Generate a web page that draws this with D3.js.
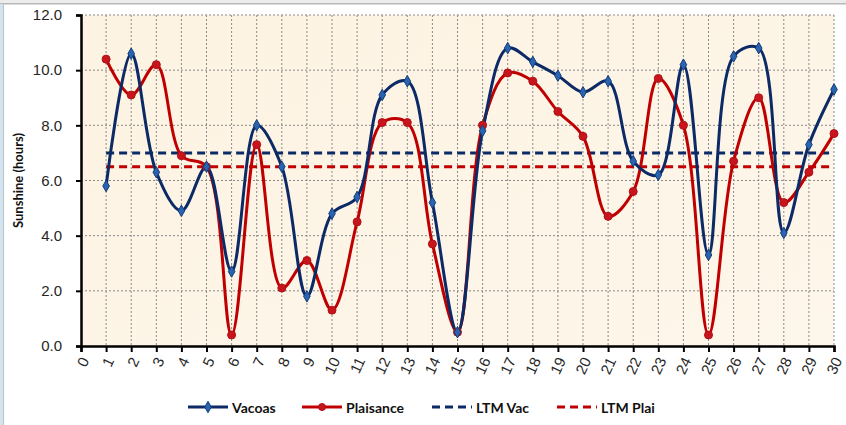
<!DOCTYPE html>
<html>
<head>
<meta charset="utf-8">
<script src="https://cdn.jsdelivr.net/npm/d3@7"></script>
<style>
  body { margin: 0; background: #fff; }
  svg { display: block; font-family: Lato, "Open Sans", sans-serif; }
</style>
</head>
<body>
<script>
"use strict"

// days of the month
const days = d3.range(1, 31)

// daily sunshine (hours)
const vacoas    = [5.8, 10.6, 6.3, 4.9, 6.5, 2.7, 8.0, 6.5, 1.8, 4.8, 5.4, 9.1, 9.6, 5.2, 0.5,
                   7.8, 10.8, 10.3, 9.8, 9.2, 9.6, 6.7, 6.2, 10.2, 3.3, 10.5, 10.8, 4.1, 7.3, 9.3]
const plaisance = [10.4, 9.1, 10.2, 6.9, 6.5, 0.4, 7.3, 2.1, 3.1, 1.3, 4.5, 8.1, 8.1, 3.7, 0.5,
                   8.0, 9.9, 9.6, 8.5, 7.6, 4.7, 5.6, 9.7, 8.0, 0.4, 6.7, 9.0, 5.2, 6.3, 7.7]

// long term means
const ltmVac  = 7.0
const ltmPlai = 6.5

const xTicks = d3.range(0, 31)
const yTicks = [0, 2, 4, 6, 8, 10, 12]

const legendItems = [
  { label : "Vacoas",    color : "#0b2a66", dash : null,  marker : "diamond", x : 188 },
  { label : "Plaisance", color : "#c00000", dash : null,  marker : "circle",  x : 302 },
  { label : "LTM Vac",   color : "#0b2a66", dash : "8,5", marker : null,      x : 432 },
  { label : "LTM Plai",  color : "#c00000", dash : "8,5", marker : null,      x : 557 },
]

const W = 846, H = 425
const plot = { left : 81, right : 834, top : 15, bottom : 346 }

const x = d3.scaleLinear().domain([0, 30]).range([plot.left, plot.right])
const y = d3.scaleLinear().domain([0, 12]).range([plot.bottom, plot.top])

const svg = d3.select("body").append("svg")
  .attr("width", W)
  .attr("height", H)

// window frame
svg.append("rect").attr("x", 0).attr("y", 0).attr("width", W).attr("height", 3).attr("fill", "#ececec")
svg.append("rect").attr("x", 0).attr("y", 3).attr("width", W).attr("height", 1.5).attr("fill", "#b8b8b8")
svg.append("rect").attr("x", 0).attr("y", 4).attr("width", 3).attr("height", H).attr("fill", "#d3e4ee")
svg.append("rect").attr("x", 3).attr("y", 4).attr("width", 1).attr("height", H).attr("fill", "#b8c4cc")

// plot background
const grad = svg.append("defs").append("linearGradient").attr("id", "bg")
  .attr("x1", 0).attr("y1", 0).attr("x2", 1).attr("y2", 1)
grad.append("stop").attr("offset", "0%").attr("stop-color", "#fdf3e2")
grad.append("stop").attr("offset", "100%").attr("stop-color", "#fdf6ea")

svg.append("rect")
  .attr("x", plot.left).attr("y", plot.top)
  .attr("width", plot.right - plot.left).attr("height", plot.bottom - plot.top)
  .attr("fill", "url(#bg)")

// grid
const grid = svg.append("g").attr("stroke", "#8a8a8a").attr("stroke-width", 1).attr("stroke-dasharray", "2,2")
grid.selectAll(".vg").data(xTicks.slice(1)).enter().append("line")
  .attr("x1", d => x(d)).attr("x2", d => x(d))
  .attr("y1", plot.top).attr("y2", plot.bottom)
grid.selectAll(".hg").data(yTicks.slice(1)).enter().append("line")
  .attr("x1", plot.left).attr("x2", plot.right)
  .attr("y1", d => y(d)).attr("y2", d => y(d))

// axes
const xAxis = svg.append("g")
  .attr("transform", `translate(0,${plot.bottom})`)
  .call(d3.axisBottom(x).tickValues(xTicks).tickSize(6).tickFormat(d3.format("d")))
const yAxis = svg.append("g")
  .attr("transform", `translate(${plot.left},0)`)
  .call(d3.axisLeft(y).tickValues(yTicks).tickSize(5).tickFormat(d3.format(".1f")))

for (const ax of [xAxis, yAxis]) {
  ax.select(".domain").attr("stroke", "#000").attr("stroke-width", 2.5)
  ax.selectAll(".tick line").attr("stroke", "#000").attr("stroke-width", 2)
}

yAxis.selectAll(".tick text")
  .attr("x", -19)
  .attr("font-size", 15)
  .attr("fill", "#262626")

xAxis.selectAll(".tick text")
  .attr("font-size", 15)
  .attr("fill", "#262626")
  .attr("text-anchor", "end")
  .attr("dy", null)
  .attr("y", null)
  .attr("transform", "translate(3,12) rotate(-65)")
  .attr("dominant-baseline", "central")

// y title
svg.append("text")
  .attr("transform", `translate(18,${(plot.top + plot.bottom) / 2}) rotate(-90)`)
  .attr("text-anchor", "middle")
  .attr("dominant-baseline", "central")
  .attr("font-size", 13)
  .attr("font-weight", "bold")
  .attr("fill", "#111")
  .text("Sunshine (hours)")

// long term means
const ltm = [
  { value : ltmVac,  color : "#0b2a66" },
  { value : ltmPlai, color : "#c00000" },
]
svg.selectAll(".ltm").data(ltm).enter().append("line")
  .attr("x1", x(1)).attr("x2", x(30))
  .attr("y1", d => y(d.value)).attr("y2", d => y(d.value))
  .attr("stroke", d => d.color)
  .attr("stroke-width", 3)
  .attr("stroke-dasharray", "8,5")

// series
const line = d3.line()
  .x((d, i) => x(days[i]))
  .y(d => y(d))
  .curve(d3.curveCatmullRom.alpha(0.5))

const series = [
  { values : plaisance, color : "#c00000", marker : "circle" },
  { values : vacoas,    color : "#0b2a66", marker : "diamond" },
]

const diamond = d3.symbol().type(d3.symbolDiamond).size(38)

for (const s of series) {
  svg.append("path")
    .attr("d", line(s.values))
    .attr("fill", "none")
    .attr("stroke", s.color)
    .attr("stroke-width", 3)
}

for (const s of series) {
  const g = svg.append("g")
  if (s.marker === "circle") {
    g.selectAll("circle").data(s.values).enter().append("circle")
      .attr("cx", (d, i) => x(days[i]))
      .attr("cy", d => y(d))
      .attr("r", 4)
      .attr("fill", "#c8141c")
      .attr("stroke", "#b01016")
      .attr("stroke-width", 1)
  } else {
    g.selectAll("path").data(s.values).enter().append("path")
      .attr("d", diamond)
      .attr("transform", (d, i) => `translate(${x(days[i])},${y(d)})`)
      .attr("fill", "#2a64b0")
      .attr("stroke", "#123d7a")
      .attr("stroke-width", 1)
  }
}

// legend
const legendY = 407
const leg = svg.selectAll(".leg").data(legendItems).enter().append("g")
  .attr("transform", d => `translate(${d.x},${legendY})`)

leg.append("line")
  .attr("x1", 0).attr("x2", 40)
  .attr("stroke", d => d.color)
  .attr("stroke-width", 3)
  .attr("stroke-dasharray", d => d.dash)

leg.filter(d => d.marker === "diamond").append("path")
  .attr("d", diamond)
  .attr("transform", "translate(20,0)")
  .attr("fill", "#2a64b0")
  .attr("stroke", "#123d7a")

leg.filter(d => d.marker === "circle").append("circle")
  .attr("cx", 20).attr("r", 3.5)
  .attr("fill", "#c8141c")
  .attr("stroke", "#b01016")

leg.append("text")
  .attr("x", 44)
  .attr("dominant-baseline", "central")
  .attr("font-size", 14)
  .attr("font-weight", "bold")
  .attr("fill", "#111")
  .text(d => d.label)
</script>
</body>
</html>
